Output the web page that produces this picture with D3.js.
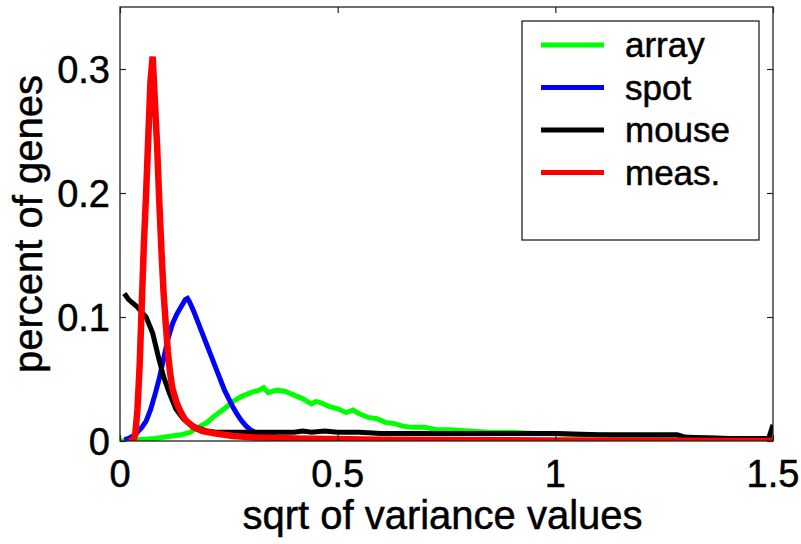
<!DOCTYPE html>
<html>
<head>
<meta charset="utf-8">
<script src="https://cdn.jsdelivr.net/npm/d3@7"></script>
<style>
  body { margin: 0; background: #fff; }
  svg text { font-family: "Liberation Sans", Arial, sans-serif; fill: #000; stroke: #000; stroke-width: 0.5px; }
</style>
</head>
<body>
<div id="chart"></div>
<script>
// values
var xTicks = [0, 0.5, 1, 1.5];
var yTicks = [0, 0.1, 0.2, 0.3];
var xTickLabels = ["0", "0.5", "1", "1.5"];
var yTickLabels = ["0", "0.1", "0.2", "0.3"];

var arrayX = [0, 0.02, 0.04, 0.06, 0.08, 0.1, 0.12, 0.14, 0.16, 0.18, 0.2, 0.22, 0.24, 0.26, 0.28, 0.3, 0.31, 0.32, 0.33, 0.34, 0.35, 0.36, 0.38, 0.4, 0.42, 0.44, 0.45, 0.46, 0.48, 0.5, 0.52, 0.535, 0.55, 0.57, 0.59, 0.61, 0.63, 0.65, 0.67, 0.7, 0.73, 0.76, 0.8, 0.85, 0.9, 0.95, 1.0, 1.05, 1.1, 1.15, 1.2, 1.3, 1.4, 1.5];
var arrayY = [0, 0.0005, 0.001, 0.0015, 0.002, 0.003, 0.004, 0.005, 0.007, 0.011, 0.015, 0.021, 0.026, 0.032, 0.036, 0.039, 0.04, 0.041, 0.043, 0.039, 0.04, 0.041, 0.04, 0.037, 0.034, 0.03, 0.032, 0.031, 0.028, 0.026, 0.023, 0.025, 0.022, 0.019, 0.018, 0.015, 0.014, 0.012, 0.011, 0.011, 0.009, 0.009, 0.008, 0.007, 0.007, 0.006, 0.006, 0.005, 0.005, 0.004, 0.003, 0.003, 0.002, 0.002];

var spotX = [0.01, 0.02, 0.03, 0.04, 0.05, 0.06, 0.07, 0.08, 0.09, 0.1, 0.11, 0.12, 0.13, 0.14, 0.15, 0.155, 0.16, 0.17, 0.18, 0.19, 0.2, 0.21, 0.22, 0.23, 0.24, 0.25, 0.26, 0.27, 0.28, 0.29, 0.3, 0.31, 0.32, 0.34, 0.36, 0.4, 0.5, 0.6, 0.8, 1.0, 1.5];
var spotY = [0.001, 0.002, 0.004, 0.007, 0.011, 0.016, 0.025, 0.037, 0.05, 0.066, 0.082, 0.094, 0.102, 0.108, 0.114, 0.115, 0.112, 0.104, 0.095, 0.086, 0.077, 0.068, 0.059, 0.05, 0.041, 0.034, 0.027, 0.021, 0.016, 0.012, 0.009, 0.007, 0.005, 0.004, 0.003, 0.002, 0.0015, 0.001, 0.0005, 0.0002, 0];

var mouseX = [0.01, 0.02, 0.03, 0.04, 0.05, 0.06, 0.075, 0.088, 0.1, 0.113, 0.128, 0.145, 0.16, 0.175, 0.2, 0.22, 0.25, 0.3, 0.35, 0.4, 0.42, 0.44, 0.47, 0.5, 0.55, 0.6, 0.7, 0.8, 0.9, 1.0, 1.1, 1.2, 1.28, 1.3, 1.4, 1.49, 1.5];
var mouseY = [0.119, 0.114, 0.111, 0.108, 0.104, 0.1, 0.087, 0.068, 0.052, 0.039, 0.026, 0.018, 0.014, 0.011, 0.008, 0.007, 0.007, 0.007, 0.007, 0.007, 0.008, 0.007, 0.008, 0.007, 0.007, 0.006, 0.006, 0.006, 0.006, 0.006, 0.005, 0.005, 0.005, 0.003, 0.002, 0.002, 0.013];

var measX = [0.02, 0.03, 0.035, 0.04, 0.045, 0.05, 0.055, 0.06, 0.065, 0.07, 0.075, 0.08, 0.085, 0.09, 0.095, 0.1, 0.105, 0.11, 0.115, 0.12, 0.13, 0.14, 0.15, 0.17, 0.19, 0.22, 0.26, 0.3, 0.4, 0.6, 1.0, 1.5];
var measY = [0, 0, 0.005, 0.025, 0.06, 0.11, 0.16, 0.2, 0.245, 0.29, 0.31, 0.275, 0.24, 0.195, 0.155, 0.12, 0.095, 0.072, 0.055, 0.043, 0.031, 0.023, 0.017, 0.011, 0.008, 0.006, 0.004, 0.003, 0.002, 0.001, 0.0005, 0];

var seriesNames = ["array", "spot", "mouse", "meas."];
var seriesColors = ["#00ff00", "#0000ff", "#000000", "#ff0000"];

var series = [
  {name: seriesNames[0], color: seriesColors[0], width: 5, xs: arrayX, ys: arrayY},
  {name: seriesNames[1], color: seriesColors[1], width: 5, xs: spotX, ys: spotY},
  {name: seriesNames[2], color: seriesColors[2], width: 5, xs: mouseX, ys: mouseY},
  {name: seriesNames[3], color: seriesColors[3], width: 6.5, xs: measX, ys: measY}
];

var W = 801, H = 544;
var margin = {top: 7, right: 28, bottom: 103, left: 120},
    width = W - margin.left - margin.right,
    height = H - margin.top - margin.bottom;

var svg = d3.select("#chart")
  .append("svg")
    .attr("width", W)
    .attr("height", H);

var g = svg.append("g")
    .attr("transform", "translate(" + margin.left + "," + margin.top + ")");

var x = d3.scaleLinear().domain([0, 1.5]).range([0, width]);
var y = d3.scaleLinear().domain([0, 0.35]).range([height, 0]);

g.append("clipPath").attr("id", "clip")
  .append("rect").attr("width", width).attr("height", height);

// curves
var line = d3.line()
    .x(function(d) { return x(d[0]); })
    .y(function(d) { return y(d[1]); });

g.append("g").attr("clip-path", "url(#clip)")
  .selectAll("path")
  .data(series)
  .enter()
  .append("path")
    .attr("fill", "none")
    .attr("stroke", function(d) { return d.color; })
    .attr("stroke-width", function(d) { return d.width; })
    .attr("stroke-linejoin", "miter")
    .attr("d", function(d) { return line(d3.zip(d.xs, d.ys)); });

// box and inward ticks on all four sides
function styleAxis(sel) {
  sel.select(".domain").remove();
  sel.selectAll(".tick line").attr("stroke", "#222").attr("stroke-width", 1.2);
  sel.selectAll("text").remove();
}
g.append("g").attr("transform", "translate(0," + height + ")")
  .call(d3.axisBottom(x).tickValues(xTicks).tickSize(-6)).call(styleAxis);
g.append("g")
  .call(d3.axisTop(x).tickValues(xTicks).tickSize(-6)).call(styleAxis);
g.append("g")
  .call(d3.axisLeft(y).tickValues(yTicks).tickSize(-6)).call(styleAxis);
g.append("g").attr("transform", "translate(" + width + ",0)")
  .call(d3.axisRight(y).tickValues(yTicks).tickSize(-6)).call(styleAxis);

g.append("rect")
  .attr("width", width).attr("height", height)
  .attr("fill", "none").attr("stroke", "#222").attr("stroke-width", 1.3);

// tick labels
g.selectAll(".xlab")
  .data(xTicks)
  .enter().append("text")
    .attr("x", function(d) { return x(d); })
    .attr("y", height + 46)
    .attr("text-anchor", "middle")
    .style("font-size", "38px")
    .text(function(d, i) { return xTickLabels[i]; });

g.selectAll(".ylab")
  .data(yTicks)
  .enter().append("text")
    .attr("x", -10)
    .attr("y", function(d) { return y(d) + 14; })
    .attr("text-anchor", "end")
    .style("font-size", "38px")
    .text(function(d, i) { return yTickLabels[i]; });

// axis titles
svg.append("text")
  .attr("x", margin.left + width / 2 - 4)
  .attr("y", 529)
  .attr("text-anchor", "middle")
  .style("font-size", "40px")
  .text("sqrt of variance values");

svg.append("text")
  .attr("transform", "translate(42," + (margin.top + height / 2) + ") rotate(-90)")
  .attr("text-anchor", "middle")
  .style("font-size", "40px")
  .text("percent of genes");

// legend
var legend = svg.append("g").attr("transform", "translate(522,21)");
legend.append("rect")
  .attr("width", 237).attr("height", 219)
  .attr("fill", "#fff").attr("stroke", "#222").attr("stroke-width", 1.3);

var rows = legend.selectAll(".row")
  .data(series)
  .enter().append("g")
    .attr("transform", function(d, i) { return "translate(0," + (24 + i * 42.5) + ")"; });
rows.append("line")
  .attr("x1", 19).attr("x2", 82)
  .attr("stroke", function(d) { return d.color; })
  .attr("stroke-width", 5);
rows.append("text")
  .attr("x", 103).attr("y", 12)
  .style("font-size", "35px")
  .text(function(d) { return d.name; });
</script>
</body>
</html>
